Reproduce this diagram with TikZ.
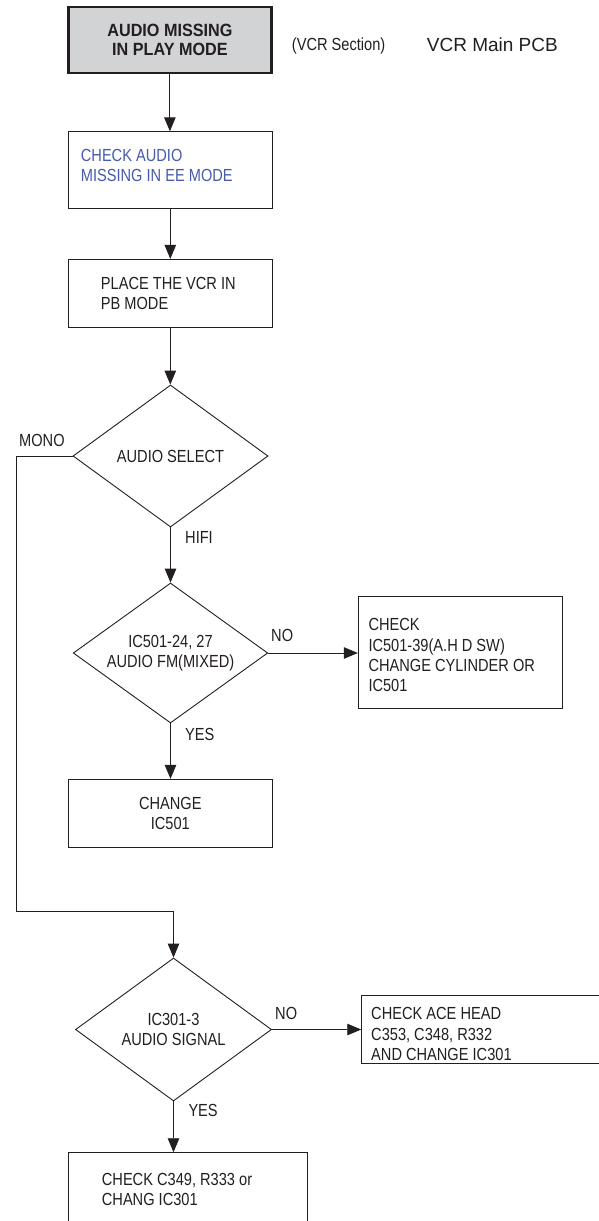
\documentclass[tikz,border=0pt]{standalone}
\usepackage{fontspec}
\setmainfont{Liberation Sans}[FakeStretch=0.835]
\newfontfamily\titlefont{Liberation Sans}[FakeStretch=0.915]
\newfontfamily\pcbfont{Liberation Sans}
\usetikzlibrary{shapes.geometric,arrows.meta}
\definecolor{ink}{RGB}{35,31,32}
\definecolor{inkblue}{RGB}{72,90,172}
\definecolor{titlegray}{RGB}{209,211,212}
\begin{document}
\begin{tikzpicture}[x=1pt,y=-1pt,
  every node/.style={inner sep=0pt, text=ink},
  txt/.style={font=\fontsize{17.5}{20.3}\selectfont},
  box/.style={draw=ink, line width=0.9pt, rectangle, inner sep=0pt},
  dec/.style={draw=ink, line width=0.9pt, diamond, aspect=1.37, inner sep=0pt, align=center, txt},
  conn/.style={draw=ink, line width=0.9pt, -{Triangle[width=11.5pt,length=14pt]}},
  lab/.style={anchor=base west, txt},
]
\useasboundingbox (0,0) rectangle (598,1221);
\fill[white] (0,0) rectangle (598,1221);

% boxes and decisions
\node[box, fill=titlegray, line width=2.4pt, minimum width=203pt, minimum height=66pt,
      align=center, font=\titlefont\bfseries\fontsize{17.7}{19.3}\selectfont]
      (b1) at (169.9,40) {AUDIO MISSING\\IN PLAY MODE};

\node[box, minimum width=204pt, minimum height=76.3pt] (b2) at (170.3,169.9) {};
\node[txt, text=inkblue, align=left, anchor=west] (t2) at (80.7,165.3) {CHECK AUDIO\\MISSING IN EE MODE};

\node[box, minimum width=204pt, minimum height=68pt] (b3) at (170.3,293.3) {};
\node[txt, align=left, anchor=west] (t3) at (100.7,293.5) {PLACE THE VCR IN\\PB MODE};

\node[dec, minimum width=195pt, minimum height=142pt] (d1) at (170.5,456) {AUDIO SELECT};

\node[dec, minimum width=194.5pt, minimum height=140pt] (d2) at (170.5,653) {IC501-24, 27\\AUDIO FM(MIXED)};

\node[box, minimum width=204pt, minimum height=111.6pt] (r1) at (460.3,652.5) {};
\node[txt, align=left, anchor=west] (t4) at (368.3,655.3) {CHECK\\IC501-39(A.H D SW)\\CHANGE CYLINDER OR\\IC501};

\node[box, txt, align=center, minimum width=204pt, minimum height=68.4pt] (b5) at (170.3,813.5) {CHANGE\\IC501};

\node[dec, minimum width=196pt, minimum height=143pt] (d3) at (173.5,1029.5) {IC301-3\\AUDIO SIGNAL};

\node[box, minimum width=240pt, minimum height=68.3pt] (r2) at (481.7,1029.2) {};
\node[txt, align=left, anchor=west] (t6) at (371,1034.2) {CHECK ACE HEAD\\C353, C348, R332\\AND CHANGE IC301};

\node[box, minimum width=239.4pt, minimum height=74pt] (b7) at (188,1189.7) {};
\node[txt, align=left, anchor=west] (t7) at (101.7,1189.2) {CHECK C349, R333 or\\CHANG IC301};

% labels
\node[lab] (sec) at (291.7,50) {(VCR Section)};
\node[anchor=base west, font=\pcbfont\fontsize{19}{22}\selectfont] (pcb) at (426.7,51.7) {VCR Main PCB};
\node[lab] (lmono) at (19,446.7) {MONO};
\node[lab] (lhifi) at (185,543.3) {HIFI};
\node[lab] (lno1) at (271,641.7) {NO};
\node[lab] (lyes1) at (185,740) {YES};
\node[lab] (lno2) at (275,1019.3) {NO};
\node[lab] (lyes2) at (188.3,1116.7) {YES};

% connectors
\coordinate (m1) at (16,911);
\draw[conn] (b1.south) -- (b1.south |- b2.north);
\draw[conn] (b2.south) -- (b2.south |- b3.north);
\draw[conn] (b3.south) -- (b3.south |- d1.north);
\draw[conn] (d1.south) -- (d2.north);
\draw[conn] (d2.east) -- (d2.east -| r1.west);
\draw[conn] (d2.south) -- (d2.south |- b5.north);
\draw[conn] (d1.west) -| (m1) -| (d3.north);
\draw[conn] (d3.east) -- (d3.east -| r2.west);
\draw[conn] (d3.south) -- (d3.south |- b7.north);
\end{tikzpicture}
\end{document}
